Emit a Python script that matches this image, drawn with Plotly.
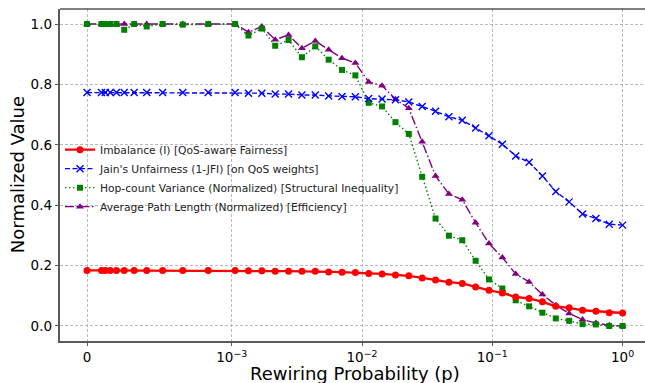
import math
import plotly.graph_objects as go

# ---------------- data ----------------
p_values = [0, 1.000e-4, 1.266e-4, 1.603e-4, 2.031e-4, 2.572e-4, 3.256e-4, 4.123e-4,
            5.221e-4, 6.612e-4, 8.372e-4, 1.061e-3, 1.343e-3, 1.701e-3, 2.154e-3,
            2.728e-3, 3.455e-3, 4.375e-3, 5.541e-3, 7.017e-3, 8.886e-3, 1.125e-2,
            1.425e-2, 1.805e-2, 2.285e-2, 2.894e-2, 3.665e-2, 4.642e-2, 5.878e-2,
            7.444e-2, 9.427e-2, 0.1194, 0.1512, 0.1915, 0.2424, 0.3070, 0.3888,
            0.4924, 0.6236, 0.7897, 1.0]

imbalance = [0.184, 0.184, 0.184, 0.184, 0.184, 0.184, 0.184, 0.184, 0.184, 0.184,
             0.184, 0.184, 0.1825, 0.1825, 0.1815, 0.1815, 0.181, 0.181, 0.179, 0.178,
             0.177, 0.174, 0.1725, 0.169, 0.166, 0.159, 0.152, 0.145, 0.141, 0.129,
             0.118, 0.1095, 0.096, 0.091, 0.080, 0.065, 0.060, 0.052, 0.049, 0.044, 0.043]

jain_unfairness = [0.773, 0.773, 0.773, 0.773, 0.773, 0.773, 0.773, 0.773, 0.773, 0.773,
                   0.773, 0.773, 0.771, 0.771, 0.768, 0.768, 0.765, 0.765, 0.762, 0.760,
                   0.759, 0.753, 0.752, 0.749, 0.742, 0.727, 0.711, 0.693, 0.681, 0.656,
                   0.630, 0.602, 0.563, 0.542, 0.497, 0.445, 0.411, 0.371, 0.356, 0.337, 0.334]

hop_variance = [1.0, 1.0, 1.0, 1.0, 1.0, 0.981, 1.0, 0.992, 1.0, 0.998,
                1.0, 1.0, 0.962, 0.985, 0.928, 0.947, 0.890, 0.926, 0.882, 0.848,
                0.830, 0.739, 0.727, 0.675, 0.636, 0.494, 0.356, 0.299, 0.284, 0.216,
                0.154, 0.124, 0.085, 0.065, 0.044, 0.025, 0.017, 0.006, 0.005, 0.0, 0.0]

avg_path_length = [1.0, 1.0, 1.0, 1.0, 1.0, 1.0, 1.0, 1.0, 1.0, 1.0,
                   1.0, 1.0, 0.973, 0.992, 0.948, 0.964, 0.920, 0.944, 0.915, 0.887,
                   0.871, 0.808, 0.796, 0.751, 0.721, 0.610, 0.497, 0.437, 0.418, 0.342,
                   0.273, 0.227, 0.172, 0.146, 0.104, 0.069, 0.041, 0.021, 0.010, 0.002, 0.0]

x_tick_values = [0, 1e-3, 1e-2, 1e-1, 1.0]
x_tick_labels = ["0", "10<sup>\u22123</sup>", "10<sup>\u22122</sup>",
                 "10<sup>\u22121</sup>", "10<sup>0</sup>"]
y_tick_values = [0.0, 0.2, 0.4, 0.6, 0.8, 1.0]

# ---------------- symlog scale (linthresh=1e-3, linscale=1) ----------------
LINTHRESH = 1e-3
LINSCALE_ADJ = 1.0 / (1.0 - 1.0 / 10.0)


def symlog(v):
    a = abs(v)
    if a <= LINTHRESH:
        return v / LINTHRESH * LINSCALE_ADJ
    s = 1 if v > 0 else -1
    return s * (LINSCALE_ADJ + math.log10(a / LINTHRESH))


xs = [symlog(v) for v in p_values]
FONT = "DejaVu Sans"

fig = go.Figure()

fig.add_trace(go.Scatter(
    x=xs, y=avg_path_length, mode="lines+markers", legendrank=4,
    name="Average Path Length (Normalized) [Efficiency]",
    line=dict(color="purple", width=1.4, dash="9px,2.5px,1.5px,2.5px"),
    marker=dict(symbol="triangle-up", size=7, color="purple")))

fig.add_trace(go.Scatter(
    x=xs, y=hop_variance, mode="lines+markers", legendrank=3,
    name="Hop-count Variance (Normalized) [Structural Inequality]",
    line=dict(color="green", width=1.4, dash="1.5px,2.5px"),
    marker=dict(symbol="square", size=6, color="green")))

fig.add_trace(go.Scatter(
    x=xs, y=jain_unfairness, mode="lines+markers", legendrank=2,
    name="Jain's Unfairness (1-JFI) [on QoS weights]",
    line=dict(color="blue", width=1.4, dash="5px,2.5px"),
    marker=dict(symbol="x-thin", size=7, color="blue",
                line=dict(color="blue", width=1.4))))

fig.add_trace(go.Scatter(
    x=xs, y=imbalance, mode="lines+markers", legendrank=1,
    name="Imbalance (I) [QoS-aware Fairness]",
    line=dict(color="red", width=2.3),
    marker=dict(symbol="circle", size=7, color="red")))

grid_color = "rgba(170,170,170,0.8)"
spine_color = "#5a5a5a"

fig.update_layout(
    width=645, height=383,
    margin=dict(l=60.3, r=0, t=9.3, b=42.3, autoexpand=False),
    paper_bgcolor="white", plot_bgcolor="white",
    font=dict(family=FONT, color="black", size=13.5),
    showlegend=True,
    legend=dict(x=0.0, y=0.62, xanchor="left", yanchor="top",
                bgcolor="rgba(0,0,0,0)", borderwidth=0,
                font=dict(family=FONT, size=10.7, color="#222")),
    xaxis=dict(
        range=[-0.2074, 4.283], tickmode="array", automargin=False,
        tickvals=[symlog(v) for v in x_tick_values], ticktext=x_tick_labels,
        showgrid=True, gridcolor=grid_color, griddash="3px,2px", gridwidth=0.8,
        zeroline=False, showline=True, linecolor=spine_color, linewidth=1.5,
        ticks="outside", ticklen=3.5, tickwidth=1, tickcolor=spine_color,
        tickfont=dict(family=FONT, size=13.5, color="black")),
    yaxis=dict(
        range=[-0.0498, 1.0498], tickmode="array", tickvals=y_tick_values,
        tickformat=".1f", automargin=False,
        showgrid=True, gridcolor=grid_color, griddash="3px,2px", gridwidth=0.8,
        zeroline=False, showline=True, linecolor=spine_color, linewidth=1.5,
        ticks="outside", ticklen=3.5, tickwidth=1, tickcolor=spine_color,
        tickfont=dict(family=FONT, size=13.5, color="black")),
    shapes=[dict(type="line", xref="paper", yref="paper", x0=0, x1=1, y0=1, y1=1,
                 line=dict(color="black", width=1))],
    annotations=[
        dict(text="Rewiring Probability (p)", xref="paper", yref="paper",
             x=0.504, y=-0.097, xanchor="center", yanchor="middle",
             showarrow=False, font=dict(family=FONT, size=18, color="black")),
        dict(text="Normalized Value", xref="paper", yref="paper",
             x=-0.0732, y=0.5, xanchor="center", yanchor="middle", textangle=-90,
             showarrow=False, font=dict(family=FONT, size=18, color="black")),
    ],
)

fig.write_html("out.html", config={"displayModeBar": False},
               post_script="document.body.style.margin='0';document.body.style.padding='0';")
